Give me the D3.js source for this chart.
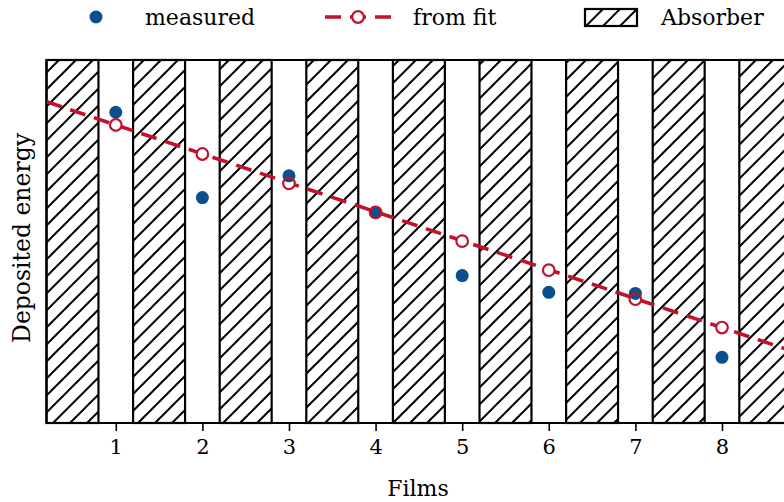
<!DOCTYPE html>
<html><head><meta charset="utf-8">
<script src="https://cdn.jsdelivr.net/npm/d3@7"></script>
<style>body{margin:0;background:#fff}svg{display:block}text{font-family:"DejaVu Serif",serif;fill:#000}</style>
</head><body><svg id="c" width="784" height="502"></svg>
<script>
const films = [1, 2, 3, 4, 5, 6, 7, 8];
const measured = [0.856, 0.621, 0.681, 0.580, 0.406, 0.360, 0.357, 0.181];
const fitted = [0.821, 0.741, 0.660, 0.580, 0.501, 0.421, 0.341, 0.263];
const fitLineX = [0.2, 8.8];
const fitLineY = [0.885, 0.199];
const absorberStart = [0.2, 1.2, 2.2, 3.2, 4.2, 5.2, 6.2, 7.2, 8.2];
const absorberEnd = [0.8, 1.8, 2.8, 3.8, 4.8, 5.8, 6.8, 7.8, 8.8];
const tickLabels = ["1", "2", "3", "4", "5", "6", "7", "8"];
const legendLabels = ["measured", "from fit", "Absorber"];

const blue = "#0b4f8c", red = "#c0122c";
const svg = d3.select("#c");
const x = d3.scaleLinear().domain([0.2, 8.8]).range([46.5, 46.5 + 8.6 * 86.6]);
const y = d3.scaleLinear().domain([0, 1]).range([423, 60]);

const defs = svg.append("defs");
const pat = defs.append("pattern").attr("id", "hatch").attr("patternUnits", "userSpaceOnUse")
  .attr("width", 17).attr("height", 17);
pat.append("path").attr("d", "M-2,19 L19,-2 M-2,2 L2,-2 M15,19 L19,15")
  .attr("stroke", "#000").attr("stroke-width", 2).attr("fill", "none");
defs.append("clipPath").attr("id", "clip").append("rect")
  .attr("x", x(0.2)).attr("y", y(1)).attr("width", x(8.8) - x(0.2)).attr("height", y(0) - y(1));

const plot = svg.append("g");
plot.selectAll("rect.abs").data(absorberStart).join("rect").attr("class", "abs")
  .attr("x", (d) => x(d)).attr("y", y(1))
  .attr("width", (d, i) => x(absorberEnd[i]) - x(d)).attr("height", y(0) - y(1))
  .attr("fill", "url(#hatch)").attr("stroke", "#000").attr("stroke-width", 2.2);

// frame
plot.append("line").attr("x1", x(0.2)).attr("x2", 784).attr("y1", y(1)).attr("y2", y(1)).attr("stroke", "#000").attr("stroke-width", 2.2);
plot.append("line").attr("x1", x(0.2)).attr("x2", 784).attr("y1", y(0)).attr("y2", y(0)).attr("stroke", "#000").attr("stroke-width", 2.2);
plot.append("line").attr("x1", x(0.2)).attr("x2", x(0.2)).attr("y1", y(1)).attr("y2", y(0)).attr("stroke", "#000").attr("stroke-width", 2.2);

// axis
const ax = svg.append("g").attr("transform", `translate(0,${y(0)})`)
  .call(d3.axisBottom(x).tickValues(films).tickFormat((d, i) => tickLabels[i]).tickSize(8).tickPadding(8));
ax.select(".domain").remove();
ax.selectAll(".tick line").attr("stroke", "#000").attr("stroke-width", 1.6);
ax.selectAll(".tick text").attr("font-family", "DejaVu Serif").attr("font-size", 21).attr("fill", "#000");

const g = svg.append("g").attr("clip-path", "url(#clip)");
g.append("path").datum(fitLineX.map((d, i) => [d, fitLineY[i]]))
  .attr("d", d3.line().x((d) => x(d[0])).y((d) => y(d[1])))
  .attr("fill", "none").attr("stroke", red).attr("stroke-width", 3.6).attr("stroke-dasharray", "16,9");
g.selectAll("circle.fitbg").data(films).join("circle").attr("class", "fitbg")
  .attr("cx", (d) => x(d)).attr("cy", (d, i) => y(fitted[i])).attr("r", 5.8)
  .attr("fill", "#fff");
g.selectAll("circle.meas").data(films).join("circle").attr("class", "meas")
  .attr("cx", (d) => x(d)).attr("cy", (d, i) => y(measured[i])).attr("r", 6.5)
  .attr("fill", blue);
g.selectAll("circle.fit").data(films).join("circle").attr("class", "fit")
  .attr("cx", (d) => x(d)).attr("cy", (d, i) => y(fitted[i])).attr("r", 5.8)
  .attr("fill", "none").attr("stroke", red).attr("stroke-width", 2.2);

// labels
svg.append("text").attr("x", 418).attr("y", 496).attr("text-anchor", "middle").attr("font-size", 22).text("Films");
svg.append("text").attr("transform", "translate(30,238) rotate(-90)").attr("text-anchor", "middle").attr("font-size", 23.5).text("Deposited energy");

// legend
const lg = svg.append("g");
lg.append("circle").attr("cx", 96).attr("cy", 17).attr("r", 6.5).attr("fill", blue);
lg.append("text").attr("x", 145).attr("y", 25).attr("font-size", 22).text(legendLabels[0]);
lg.append("line").attr("x1", 325).attr("x2", 392).attr("y1", 17).attr("y2", 17)
  .attr("stroke", red).attr("stroke-width", 3.6).attr("stroke-dasharray", "16,9");
lg.append("circle").attr("cx", 358).attr("cy", 17).attr("r", 5.8).attr("fill", "#fff").attr("stroke", red).attr("stroke-width", 2.2);
lg.append("text").attr("x", 413).attr("y", 25).attr("font-size", 22).text(legendLabels[1]);
lg.append("rect").attr("x", 585).attr("y", 9).attr("width", 52).attr("height", 17)
  .attr("fill", "url(#hatch)").attr("stroke", "#000").attr("stroke-width", 2.2);
lg.append("text").attr("x", 661).attr("y", 25).attr("font-size", 22).text(legendLabels[2]);
</script></body></html>
